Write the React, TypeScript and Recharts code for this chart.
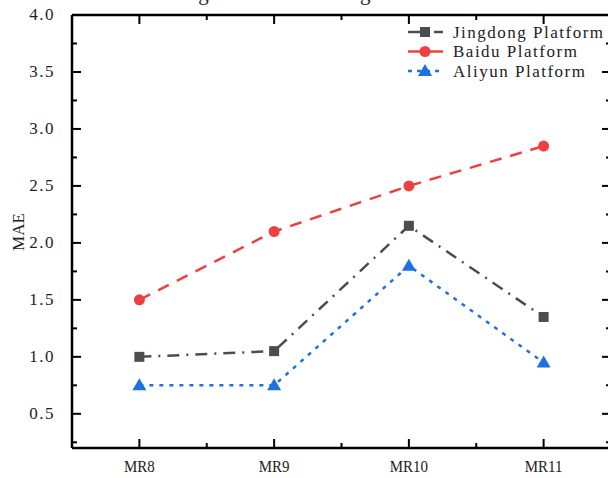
import React from 'react';
import { LineChart, Line, XAxis, YAxis } from 'recharts';

const categories = ['MR8', 'MR9', 'MR10', 'MR11'];
const jingdong = [1.0, 1.05, 2.15, 1.35];
const baidu = [1.5, 2.1, 2.5, 2.85];
const aliyun = [0.75, 0.75, 1.8, 0.95];
const xTicks = [1, 1.5, 2, 2.5, 3, 3.5, 4];
const yTicks = [0.25, 0.5, 0.75, 1.0, 1.25, 1.5, 1.75, 2.0, 2.25, 2.5, 2.75, 3.0, 3.25, 3.5, 3.75, 4.0];
const yLabels = ['0.5', '1.0', '1.5', '2.0', '2.5', '3.0', '3.5', '4.0'];

const data = categories.map((c, i) => ({
  x: i + 1,
  name: c,
  jingdong: jingdong[i],
  baidu: baidu[i],
  aliyun: aliyun[i],
}));

const GRAY = '#4d4d4d';
const RED = '#ee4040';
const BLUE = '#1f70e0';
const FONT = '"Liberation Serif", "DejaVu Serif", serif';

const isMajorX = (v: number) => Number.isInteger(v);
const isMajorY = (v: number) => Math.abs(v * 2 - Math.round(v * 2)) < 1e-6;

const XTickBottom = (props: any) => {
  const { x, y, payload } = props;
  const v = payload.value;
  const major = isMajorX(v);
  const ay = y - 1;
  return (
    <g>
      <line x1={x} x2={x} y1={ay} y2={ay - (major ? 8 : 4)} stroke="#000" strokeWidth={2} />
      {major && (
        <text x={x} y={ay + 25} textAnchor="middle" fontFamily={FONT} fontSize={17} fill="#222" transform={`translate(${x * 0.12},0) scale(0.88,1)`}>
          {categories[v - 1]}
        </text>
      )}
    </g>
  );
};

const XTickTop = (props: any) => {
  const { x, y, payload } = props;
  const major = isMajorX(payload.value);
  const ay = y + 1;
  return <line x1={x} x2={x} y1={ay} y2={ay + (major ? 8 : 4)} stroke="#000" strokeWidth={2} />;
};

const YTickLeft = (props: any) => {
  const { x, y, payload } = props;
  const v = payload.value;
  const major = isMajorY(v);
  const idx = yLabels.indexOf(v.toFixed(1));
  const ax = x + 1;
  return (
    <g>
      <line x1={ax} x2={ax + (major ? 8 : 4)} y1={y} y2={y} stroke="#000" strokeWidth={2} />
      {major && idx >= 0 && (
        <text x={ax - 18} y={y + 5} textAnchor="end" fontFamily={FONT} fontSize={17} fill="#222" letterSpacing={1.5}>
          {yLabels[idx]}
        </text>
      )}
    </g>
  );
};

const YTickRight = (props: any) => {
  const { x, y, payload } = props;
  const major = isMajorY(payload.value);
  const ax = x - 1;
  return <line x1={ax} x2={ax - (major ? 8 : 4)} y1={y} y2={y} stroke="#000" strokeWidth={2} />;
};

const Square = (props: any) => {
  const { cx, cy } = props;
  if (cx == null || cy == null) return null;
  return <rect x={cx - 5} y={cy - 5} width={10} height={10} fill={GRAY} />;
};
const Circle = (props: any) => {
  const { cx, cy } = props;
  if (cx == null || cy == null) return null;
  return <circle cx={cx} cy={cy} r={5.5} fill={RED} />;
};
const Tri = (props: any) => {
  const { cx, cy } = props;
  if (cx == null || cy == null) return null;
  return <path d={`M${cx},${cy - 7} L${cx + 7},${cy + 5} L${cx - 7},${cy + 5} Z`} fill={BLUE} />;
};

const legendItems = [
  { label: 'Jingdong Platform', color: GRAY, dash: '12 6 2 6', marker: 'square' },
  { label: 'Baidu Platform', color: RED, dash: '', marker: 'circle' },
  { label: 'Aliyun Platform', color: BLUE, dash: '4 5', marker: 'tri' },
];

const LegendBox = () => (
  <svg width={210} height={62} style={{ position: 'absolute', left: 400, top: 22 }}>
    {legendItems.map((it, i) => {
      const cy = 10 + i * 19.5;
      const cx = 25;
      return (
        <g key={it.label}>
          <line x1={8} x2={43} y1={cy} y2={cy} stroke={it.color} strokeWidth={2.5} strokeDasharray={it.dash || undefined} />
          {it.marker === 'square' && <rect x={cx - 5} y={cy - 5} width={10} height={10} fill={it.color} />}
          {it.marker === 'circle' && <circle cx={cx} cy={cy} r={5.5} fill={it.color} />}
          {it.marker === 'tri' && <path d={`M${cx},${cy - 7} L${cx + 7},${cy + 5} L${cx - 7},${cy + 5} Z`} fill={it.color} />}
          <text x={53} y={cy + 5.5} fontFamily={FONT} fontSize={17} fill="#222" letterSpacing={1.5}>
            {it.label}
          </text>
        </g>
      );
    })}
  </svg>
);

export default function App() {
  return (
    <div style={{ position: 'fixed', left: 0, top: 0, width: 608, height: 478, overflow: 'hidden', background: '#fff' }}>
      <LineChart width={640} height={478} data={data} margin={{ top: 14, right: 28, bottom: 29, left: 71 }}>
        <XAxis
          xAxisId="b"
          dataKey="x"
          type="number"
          domain={[0.5, 4.5]}
          ticks={xTicks}
          interval={0}
          height={1}
          tickSize={0}
          tickMargin={0}
          tick={<XTickBottom />}
          axisLine={{ stroke: '#000', strokeWidth: 2.5 }}
          tickLine={false}
        />
        <XAxis
          xAxisId="t"
          orientation="top"
          dataKey="x"
          type="number"
          domain={[0.5, 4.5]}
          ticks={xTicks}
          interval={0}
          height={1}
          tickSize={0}
          tickMargin={0}
          tick={<XTickTop />}
          axisLine={{ stroke: '#000', strokeWidth: 2.5 }}
          tickLine={false}
        />
        <YAxis
          yAxisId="l"
          type="number"
          domain={[0.2, 4.0]}
          ticks={yTicks}
          interval={0}
          width={1}
          tickSize={0}
          tickMargin={0}
          tick={<YTickLeft />}
          axisLine={{ stroke: '#000', strokeWidth: 2.5 }}
          tickLine={false}
          allowDataOverflow
        />
        <YAxis
          yAxisId="r"
          orientation="right"
          type="number"
          domain={[0.2, 4.0]}
          ticks={yTicks}
          interval={0}
          width={1}
          tickSize={0}
          tickMargin={0}
          tick={<YTickRight />}
          axisLine={{ stroke: '#000', strokeWidth: 2.5 }}
          tickLine={false}
          allowDataOverflow
        />
        <Line xAxisId="b" yAxisId="l" dataKey="jingdong" stroke={GRAY} strokeWidth={2.5} strokeDasharray="12 7 2 7" dot={<Square />} isAnimationActive={false} />
        <Line xAxisId="b" yAxisId="l" dataKey="baidu" stroke={RED} strokeWidth={2.5} strokeDasharray="12 9" dot={<Circle />} isAnimationActive={false} />
        <Line xAxisId="b" yAxisId="l" dataKey="aliyun" stroke={BLUE} strokeWidth={2.5} strokeDasharray="4 6" dot={<Tri />} isAnimationActive={false} />
        <text x={318} y={0} textAnchor="middle" fontFamily={FONT} fontSize={21} fill="#222">
          Fig. Simulation in large scenario
        </text>
        <text x={24} y={232} textAnchor="middle" fontFamily={FONT} fontSize={17} fill="#222" transform="rotate(-90 24 232)">
          MAE
        </text>
      </LineChart>
      <LegendBox />
    </div>
  );
}
